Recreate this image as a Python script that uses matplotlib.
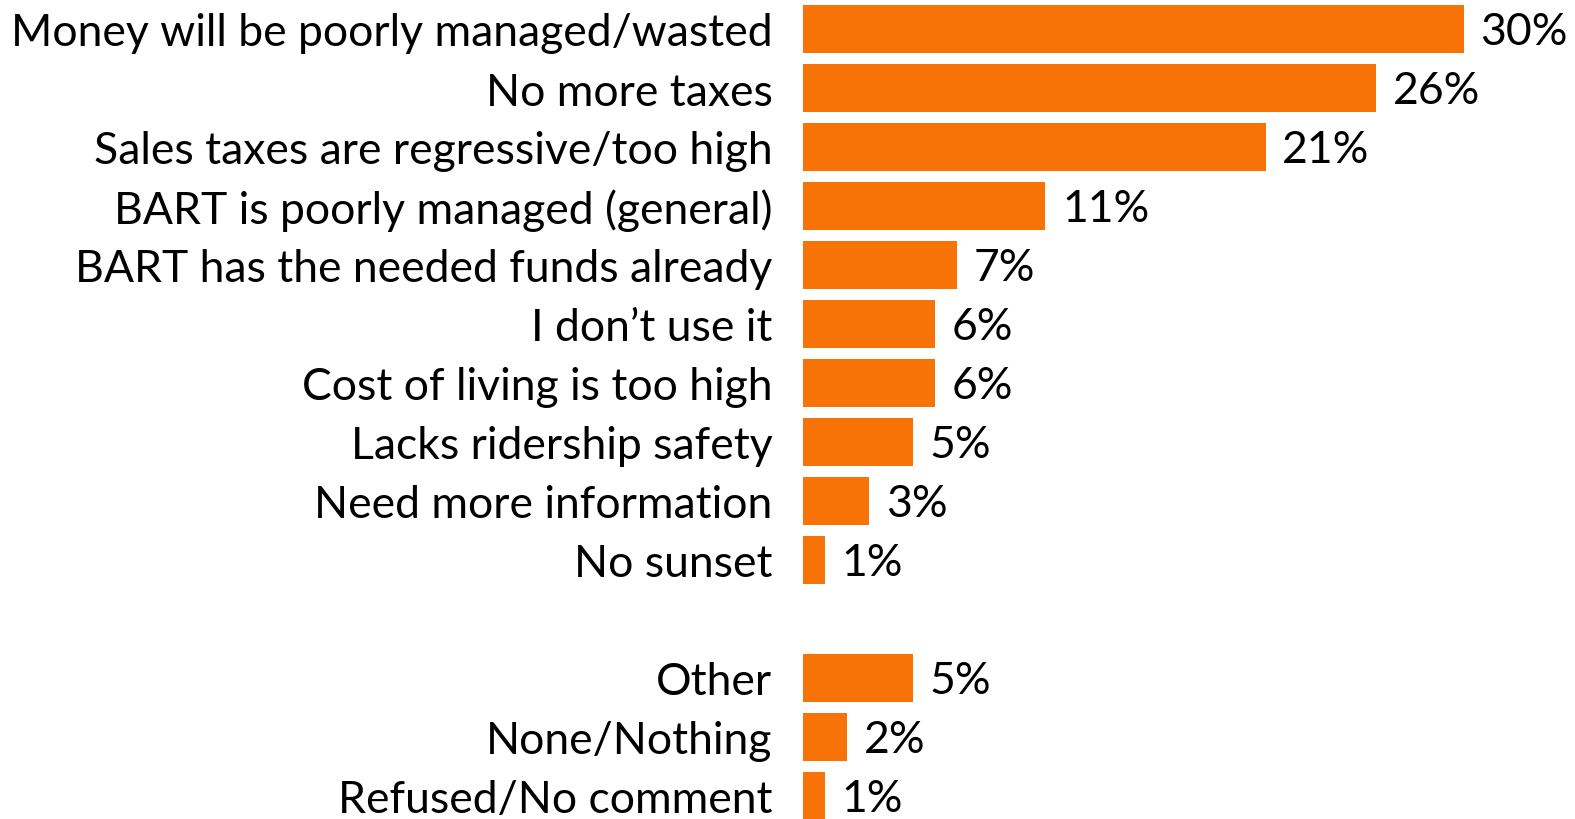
import numpy as np
import matplotlib
matplotlib.use("Agg")
import matplotlib.pyplot as plt

categories = [
    "Money will be poorly managed/wasted",
    "No more taxes",
    "Sales taxes are regressive/too high",
    "BART is poorly managed (general)",
    "BART has the needed funds already",
    "I don\u2019t use it",
    "Cost of living is too high",
    "Lacks ridership safety",
    "Need more information",
    "No sunset",
    "Other",
    "None/Nothing",
    "Refused/No comment",
]
values = [30, 26, 21, 11, 7, 6, 6, 5, 3, 1, 5, 2, 1]
# row positions (gap row before "Other")
rows = [0, 1, 2, 3, 4, 5, 6, 7, 8, 9, 11, 12, 13]

bar_color = "#F77308"
font = ["Lato", "DejaVu Sans"]
fsize = 32

fig = plt.figure(figsize=(15.75, 8.2), dpi=100)
ax = fig.add_axes([803 / 1575, 0, 772 / 1575, 1])

ax.barh(rows, values, height=0.83, color=bar_color, edgecolor="none")
ax.set_xlim(0, 772 / 22.03)
ax.set_ylim(790 / 59, -30 / 59)

for r, v in zip(rows, values):
    ax.annotate(f"{v}%", xy=(v, r), xytext=(12, -2), textcoords="offset points",
                ha="left", va="center", fontsize=fsize, family=font)

ax.set_yticks(rows)
ax.set_yticklabels(categories, fontsize=fsize, family=font)
ax.tick_params(axis="y", length=0, pad=22)
ax.set_xticks([])
for s in ax.spines.values():
    s.set_visible(False)

fig.savefig("out.png", dpi=100)
